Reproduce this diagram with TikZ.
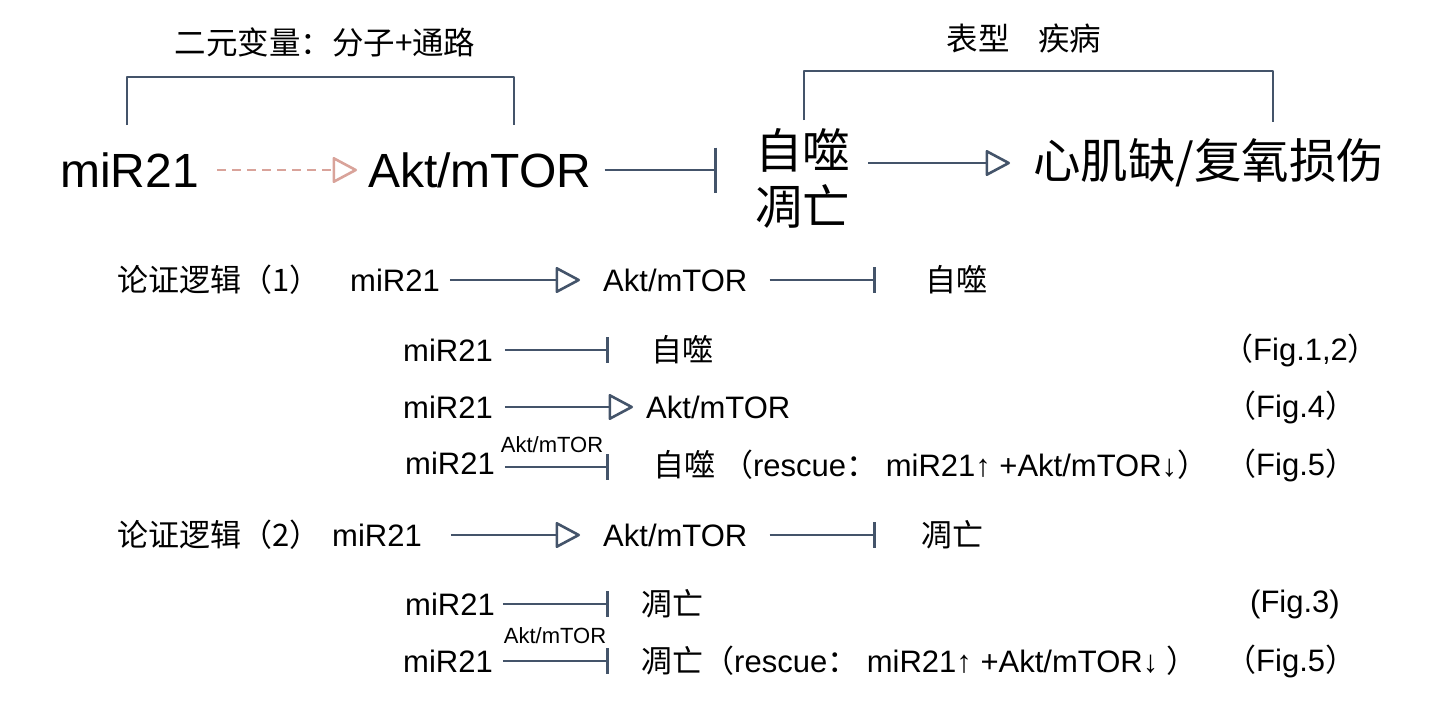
\documentclass[tikz,border=0pt]{standalone}
\usepackage{fontspec}
\setmainfont{Liberation Sans}
\newfontfamily\cjk{Noto Sans CJK SC}
\newcommand\zh[1]{{\cjk #1}}
\usetikzlibrary{arrows.meta}
\definecolor{lc}{HTML}{44546A}
\definecolor{pk}{HTML}{D9A39A}
\begin{document}
\begin{tikzpicture}[x=1pt,y=-1pt,
  ln/.style={draw=lc,line width=2.6pt,line join=round},
  act/.style={ln,-{Triangle[open,length=26pt,width=27pt,round]}},
  inh/.style={ln,-{Bar[width=26pt]}},
  big/.style={anchor=west,inner sep=0pt,font=\fontsize{48}{56}\selectfont},
  bigzh/.style={anchor=west,inner sep=0pt,font=\cjk\fontsize{47.5}{56}\selectfont},
  txt/.style={anchor=west,inner sep=0pt,font=\fontsize{31}{36}\selectfont},
  ttl/.style={inner sep=0pt,font=\cjk\fontsize{31.5}{36}\selectfont},
  sml/.style={inner sep=0pt,font=\fontsize{22}{26}\selectfont}]
\useasboundingbox[fill=white] (0,0) rectangle (1446,720);

% ---- top row ----
\node[ttl] (t1) at (325,42) {二元变量：分子+通路};
\node[ttl] (t2) at (1024,38) {表型\hspace{0.9em}疾病};
\draw[ln] (127,125) |- (514,77) -- (514,125);
\draw[ln] (804,120) |- (1273,71) -- (1273,122);

\node[big] (m0) at (60,170) {miR21};
\node[big] (a0) at (368,170) {Akt/mTOR};
\node[bigzh,align=left] (ph) at (755,178) {自噬\\凋亡};
\node[bigzh] (dz) at (1033,163) {心肌缺/复氧损伤};
\draw[draw=pk,line width=2.6pt,dash pattern=on 9pt off 6pt,-{Triangle[open,length=26pt,width=27pt,round]}]
  ([xshift=18pt]m0.east) -- ([xshift=-11pt]m0.east -| a0.west);
\draw[ln,-{Bar[width=45pt]}] ([xshift=13pt]a0.east) -- ([xshift=-38pt]a0.east -| ph.west);
\draw[act] ([xshift=18pt]ph.east |- dz.west) -- ([xshift=-23pt]dz.west);

% ---- row 1 ----
\node[txt] (l1) at (117,280) {\zh{论证逻辑（1）}};
\node[txt] (m1) at (350,280) {miR21};
\node[txt] (a1) at (603,280) {Akt/mTOR};
\node[txt] (p1) at (925,280) {\zh{自噬}};
\draw[act] ([xshift=10pt]m1.east) -- ([xshift=-23pt]m1.east -| a1.west);
\draw[inh] ([xshift=22pt]a1.east) -- ([xshift=-49pt]a1.east -| p1.west);

% ---- row 2 ----
\node[txt] (m2) at (403,350) {miR21};
\node[txt] (p2) at (651,350) {\zh{自噬}};
\node[txt] (f2) at (1222,350) {\zh{（}Fig.1,2\zh{）}};
\draw[inh] ([xshift=12pt]m2.east) -- ([xshift=-42pt]m2.east -| p2.west);

% ---- row 3 ----
\node[txt] (m3) at (403,407) {miR21};
\node[txt] (a3) at (646,407) {Akt/mTOR};
\node[txt] (f3) at (1225,407) {\zh{（}Fig.4\zh{）}};
\draw[act] ([xshift=12pt]m3.east) -- ([xshift=-13pt]m3.east -| a3.west);

% ---- row 4 ----
\node[txt] (m4) at (405,463) {miR21};
\node[txt] (p4) at (653,465) {\zh{自噬 （}rescue\zh{：} miR21↑ +Akt/mTOR↓\zh{）}};
\node[txt] (f4) at (1225,465) {\zh{（}Fig.5\zh{）}};
\draw[inh] ([xshift=10pt,yshift=-4pt]m4.east) -- ([xshift=-44pt,yshift=-4pt]m4.east -| p4.west);
\node[sml] (k4) at (552,445) {Akt/mTOR};

% ---- row 5 ----
\node[txt] (l5) at (117,535) {\zh{论证逻辑（2）}};
\node[txt] (m5) at (332,535) {miR21};
\node[txt] (a5) at (603,535) {Akt/mTOR};
\node[txt] (p5) at (921,535) {\zh{凋亡}};
\draw[act] ([xshift=29pt]m5.east) -- ([xshift=-23pt]m5.east -| a5.west);
\draw[inh] ([xshift=22pt]a5.east) -- ([xshift=-45pt]a5.east -| p5.west);

% ---- row 6 ----
\node[txt] (m6) at (405,604) {miR21};
\node[txt] (p6) at (641,604) {\zh{凋亡}};
\node[txt] (f6) at (1250,604) {(Fig.3)};
\draw[inh] ([xshift=8pt]m6.east) -- ([xshift=-32pt]m6.east -| p6.west);

% ---- row 7 ----
\node[txt] (m7) at (403,661) {miR21};
\node[txt] (p7) at (641,661) {\zh{凋亡（}rescue\zh{：} miR21↑ +Akt/mTOR↓ \zh{）}};
\node[txt] (f7) at (1225,661) {\zh{（}Fig.5\zh{）}};
\draw[inh] ([xshift=10pt]m7.east) -- ([xshift=-32pt]m7.east -| p7.west);
\node[sml] (k7) at (555,636) {Akt/mTOR};
\end{tikzpicture}
\end{document}
